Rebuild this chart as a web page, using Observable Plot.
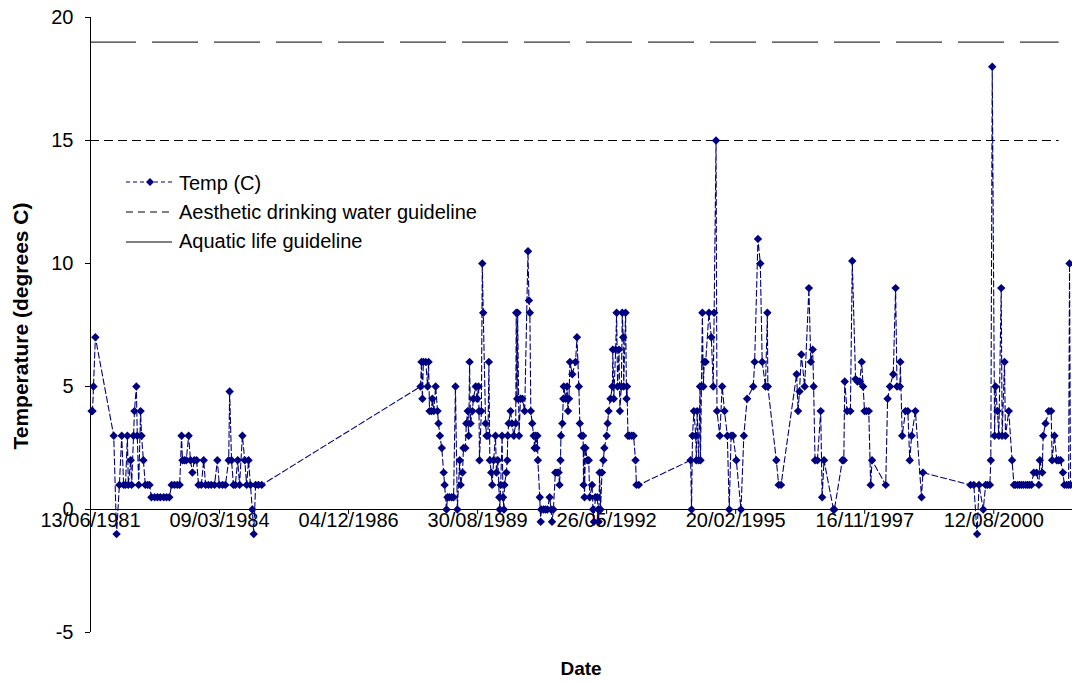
<!DOCTYPE html>
<html><head><meta charset="utf-8">
<script src="https://cdn.jsdelivr.net/npm/d3@7"></script>
<script src="https://cdn.jsdelivr.net/npm/@observablehq/plot@0.6"></script>
<style>
html,body{margin:0;padding:0;background:#fff;}
#chart{width:1072px;height:681px;}
</style></head><body><div id="chart"></div>
<script>
// ---- Data (sample dates as decimal years, temperatures in degrees C) ----
const years1981 = [1981.47,1981.49,1981.51,1981.55,1981.94,1982.00,1982.06,1982.11,1982.15,1982.19,1982.23,1982.25,1982.30,1982.32,1982.36,1982.38,1982.42,1982.44,1982.47,1982.51,1982.53,1982.57,1982.61,1982.66,1982.70,1982.74,1982.81,1982.87,1982.93,1983.00,1983.06,1983.12,1983.17,1983.23,1983.29,1983.34,1983.38,1983.40,1983.44,1983.48,1983.53,1983.57,1983.61,1983.65,1983.70,1983.74,1983.80,1983.85,1983.89,1983.95,1984.01,1984.08,1984.14,1984.18,1984.25,1984.31,1984.38,1984.40,1984.44,1984.48,1984.52,1984.57,1984.61,1984.67,1984.72,1984.76,1984.80,1984.84,1984.88,1984.91,1984.95,1985.01,1985.08];
const temps1981 = [4,4,5,7,3,-1,1,3,1,1,3,1,2,1,3,4,5,3,1,4,3,2,1,1,1,0.5,0.5,0.5,0.5,0.5,0.5,0.5,1,1,1,1,3,2,2,2,3,2,1.5,2,2,1,1,2,1,1,1,1,2,1,1,1,2,4.8,2,1,1,2,1,3,2,1,2,1,0,-1,1,1,1];

const years1988 = [1988.45,1988.47,1988.49,1988.51,1988.56,1988.60,1988.62,1988.64,1988.68,1988.70,1988.73,1988.77,1988.81,1988.83,1988.86,1988.90,1988.94,1988.96,1989.00,1989.02,1989.06,1989.11,1989.15,1989.19,1989.23,1989.28,1989.30,1989.34,1989.36,1989.40,1989.42,1989.45,1989.47,1989.49,1989.51,1989.55,1989.57,1989.62,1989.65,1989.68,1989.69,1989.70,1989.74,1989.76,1989.78,1989.83,1989.85,1989.88,1989.90,1989.92,1989.95,1989.97,1990.00,1990.04,1990.06,1990.09,1990.12,1990.13,1990.15,1990.18,1990.20,1990.22,1990.23,1990.27,1990.29,1990.30,1990.32,1990.36,1990.39,1990.43,1990.47,1990.48,1990.50,1990.51,1990.54,1990.57,1990.61,1990.66];
const temps1988 = [5,6,4.5,6,6,5,6,4,4,4.5,4,5,4,3.5,3,2.5,1.5,1,0,0.5,0.5,0.5,0.5,5,0,2,1,1.5,2.5,2.5,3.5,4,3,6,3.5,4,4.5,5,4.5,5,4,2,4,10,8,3.5,3,3,6,2,1.5,1,2,3,1.5,2,0.5,0,1,3,0.5,0,1,1.5,2,3,3.5,4,3.5,3,3.5,8,4.5,8,3,4.5,4.5,4];

const years1990 = [1990.73,1990.75,1990.77,1990.79,1990.82,1990.85,1990.87,1990.89,1990.91,1990.93,1990.94,1990.98,1991.00,1991.01,1991.06,1991.10,1991.14,1991.19,1991.22,1991.24,1991.27,1991.31,1991.35,1991.38,1991.40,1991.42,1991.43,1991.46,1991.48,1991.49,1991.53,1991.56,1991.58,1991.60,1991.62,1991.67,1991.74,1991.77,1991.81,1991.83,1991.86,1991.90,1991.91,1991.92,1991.93,1991.95,1991.99,1992.02,1992.04,1992.09,1992.11,1992.13,1992.16,1992.20,1992.22,1992.23,1992.25,1992.27,1992.30,1992.33,1992.35,1992.40,1992.42,1992.44,1992.48,1992.52,1992.53,1992.55,1992.59,1992.61,1992.63,1992.66,1992.68,1992.71,1992.73,1992.75,1992.76,1992.80,1992.82,1992.83,1992.85,1992.88,1992.93,1992.97,1993.01,1993.03,1993.08];
const temps1990 = [10.5,8.5,8,4,3.5,3,2.5,3,2.5,3,2,0.5,-0.5,0,0,0,0,0.5,0,-0.5,0,1.5,1.5,1.5,1,2,3,3.5,4.5,5,4.5,5,4,4.5,6,5.5,6,7,5,3.5,3,3,1,2.5,0.5,2.5,2,2,0.5,1,0,-0.5,0.5,0.5,0,-0.5,1.5,0,1.5,2,2.5,3,3.5,4,4.5,5,6.5,4.5,6.5,8,5,6.5,4,5,8,7,5,8,4.5,5,3,3,3,3,2,1,1];

const years1994 = [1994.18,1994.20,1994.22,1994.25,1994.29,1994.30,1994.32,1994.35,1994.38,1994.39,1994.41,1994.43,1994.45,1994.47,1994.50,1994.57,1994.62,1994.66,1994.68,1994.72,1994.74,1994.80,1994.85,1994.90,1994.96,1995.00,1995.04,1995.08,1995.15,1995.25,1995.31,1995.38,1995.51,1995.54,1995.61,1995.66,1995.70,1995.77,1995.81,1995.82,1996.00,1996.05,1996.10,1996.43,1996.46,1996.49,1996.53,1996.60,1996.69,1996.73,1996.77,1996.79,1996.82,1996.87,1996.94,1996.97,1997.01,1997.21,1997.23,1997.40,1997.43,1997.45,1997.50,1997.57,1997.61,1997.68,1997.72,1997.77,1997.81,1997.84,1997.87,1997.91,1997.96,1998.00,1998.03,1998.32,1998.36,1998.41,1998.48,1998.53,1998.56,1998.62,1998.63,1998.67,1998.74,1998.79,1998.83,1998.87,1998.95,1999.08,1999.11];
const temps1994 = [2,0,3,4,3,2,4,2,5,2,5,8,5,6,6,8,7,5,8,15,4,3,5,4,3,0,3,3,2,0,3,4.5,5,6,11,10,6,5,8,5,2,1,1,5.5,4,4.8,6.3,5,9,6,6.5,5,2,2,4,0.5,2,0,0,2,2,5.2,4,4,10.1,5.3,5.2,5.2,6,5,4,4,4,1,2,1,4.5,5,5.5,9,5,5,6,3,4,4,2,3,4,0.5,1.5];

const years2000 = [2000.12,2000.19,2000.26,2000.30,2000.39,2000.44,2000.48,2000.53,2000.55,2000.58,2000.63,2000.65,2000.69,2000.72,2000.77,2000.79,2000.84,2000.86,2000.93,2001.00,2001.04,2001.07,2001.12,2001.16,2001.20,2001.24,2001.29,2001.33,2001.37,2001.41,2001.46,2001.52,2001.57,2001.59,2001.64,2001.66,2001.71,2001.78,2001.83,2001.85,2001.90,2001.95,2001.99,2002.03,2002.08,2002.11,2002.16,2002.20,2002.22,2002.24];
const temps2000 = [1,1,-1,1,0,1,1,1,2,18,3,5,4,3,9,3,6,3,4,2,1,1,1,1,1,1,1,1,1,1,1.5,1.5,1,2,1.5,3,3.5,4,4,2,3,2,2,2,1.5,1,1,1,10,1];

const aestheticGuideline = 15;   // drinking water guideline (degrees C)
const aquaticGuideline = 19;     // aquatic life guideline (degrees C)
const guidelineYears = [1981.447, 2002.0];
const xDomainYears = [1981.447, 2002.283];

const yTicks = [-5, 0, 5, 10, 15, 20];
const xTickLabels = ["13/06/1981","09/03/1984","04/12/1986","30/08/1989","26/05/1992","20/02/1995","16/11/1997","12/08/2000"];
const legendLabels = ["Temp (C)", "Aesthetic drinking water guideline", "Aquatic life guideline"];
const yTitle = "Temperature (degrees C)";
const xTitle = "Date";

// ---- Helpers ----
function yearToDate(v) {
  const y = Math.floor(v);
  const s = Date.UTC(y, 0, 1), e = Date.UTC(y + 1, 0, 1);
  return new Date(s + (v - y) * (e - s));
}
function parseDMY(s) {
  const [d, m, y] = s.split("/").map(Number);
  return new Date(Date.UTC(y, m - 1, d));
}

const allYears = [...years1981, ...years1988, ...years1990, ...years1994, ...years2000];
const allTemps = [...temps1981, ...temps1988, ...temps1990, ...temps1994, ...temps2000];
const data = allYears.map((y, i) => ({date: yearToDate(y), temp: allTemps[i]}));
const tickDates = xTickLabels.map(parseDMY);
const xStart = tickDates[0];
const xEnd = yearToDate(xDomainYears[1]);
const gStart = yearToDate(guidelineYears[0]);
const gEnd = yearToDate(guidelineYears[1]);

const NAVY = "#000080";
const FONT = '"Liberation Sans", Arial, sans-serif';

const chart = Plot.plot({
  width: 1072,
  height: 681,
  marginLeft: 90,
  marginRight: 0,
  marginTop: 17,
  marginBottom: 49,
  style: {fontFamily: FONT, fontSize: "20px", color: "#000", background: "#fff", overflow: "visible"},
  x: {type: "utc", domain: [xStart, xEnd], axis: null},
  y: {domain: [-5, 20], axis: null},
  marks: [
    Plot.axisY(yTicks, {tickSize: 5, tickPadding: 12, fontSize: 20, label: null, tickFormat: d => String(d)}),
    Plot.ruleX([xStart], {y1: -5, y2: 20, stroke: "#000"}),
    Plot.ruleY([0], {stroke: "#000"}),
    Plot.ruleX(tickDates, {x: d => d, y1: 0, y2: -0.2, stroke: "#000"}),
    Plot.text(tickDates, {x: d => d, y: 0, text: (d, i) => xTickLabels[i], dy: 11, fontSize: 20, lineAnchor: "middle"}),
    Plot.ruleY([aquaticGuideline], {x1: gStart, x2: gEnd, stroke: "#000", strokeDasharray: "46,16"}),
    Plot.ruleY([aestheticGuideline], {x1: gStart, x2: gEnd, stroke: "#000", strokeDasharray: "9,5"}),
    Plot.line(data, {x: "date", y: "temp", stroke: NAVY, strokeWidth: 1.1, strokeDasharray: "6,3"}),
    Plot.dot(data, {x: "date", y: "temp", symbol: "diamond2", r: 3.8, fill: NAVY, stroke: "none"})
  ]
});
document.getElementById("chart").appendChild(chart);

const svg = d3.select(chart);
// Axis titles
svg.append("text")
  .attr("transform", "translate(28,326) rotate(-90)")
  .attr("text-anchor", "middle")
  .attr("font-family", FONT).attr("font-size", 21).attr("font-weight", "bold")
  .attr("fill", "#000")
  .text(yTitle);
svg.append("text")
  .attr("x", 581).attr("y", 675)
  .attr("text-anchor", "middle")
  .attr("font-family", FONT).attr("font-size", 19).attr("font-weight", "bold")
  .attr("fill", "#000")
  .text(xTitle);

// Legend (inside plot area, upper left)
const legendStyles = [
  {stroke: NAVY, dash: "4,3", marker: true},
  {stroke: "#000", dash: "7,5", marker: false},
  {stroke: "#000", dash: "46,16", marker: false}
];
const lg = svg.append("g").attr("text-anchor", "start");
legendLabels.forEach((label, i) => {
  const st = legendStyles[i];
  const ly = 182 + 30 * i;
  lg.append("line").attr("x1", 126).attr("x2", 173).attr("y1", ly).attr("y2", ly)
    .attr("stroke", st.stroke).attr("stroke-dasharray", st.dash).attr("stroke-width", 1);
  if (st.marker) {
    lg.append("path").attr("d", d3.symbol(d3.symbolDiamond2, Math.PI * 3.6 * 3.6)())
      .attr("transform", `translate(150,${ly})`).attr("fill", NAVY);
  }
  lg.append("text").attr("x", 179).attr("y", 190 + 29 * i)
    .attr("text-anchor", "start")
    .attr("font-family", FONT).attr("font-size", 20).attr("fill", "#000")
    .text(label);
});
</script>
</body></html>
